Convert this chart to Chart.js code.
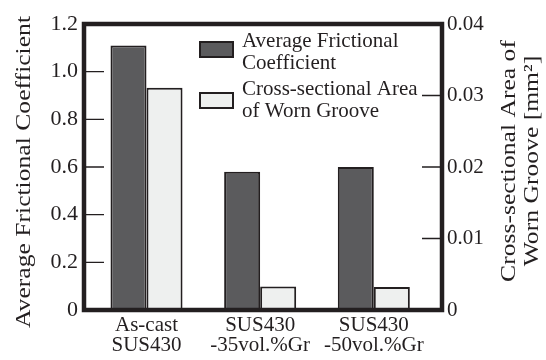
<!DOCTYPE html>
<html lang="en">
<head>
<meta charset="UTF-8">
<title>Frictional Coefficient and Worn Groove Area</title>
<script src="https://cdn.jsdelivr.net/npm/chart.js"></script>
<style>
  html, body { margin: 0; padding: 0; background: #fff; }
</style>
</head>
<body>
<canvas id="myChart" width="546" height="360"></canvas>
<script>
// data
const categories = [["As-cast", "SUS430"], ["SUS430", "-35vol.%Gr"], ["SUS430", "-50vol.%Gr"]];
const frictionValues = [1.11, 0.58, 0.60];
const grooveAreaValues = [0.0311, 0.0033, 0.0032];
const frictionTicks = [0, 0.2, 0.4, 0.6, 0.8, 1.0, 1.2];
const areaTicks = [0, 0.01, 0.02, 0.03, 0.04];
const seriesNames = [["Average Frictional", "Coefficient"], ["Cross-sectional Area", "of Worn Groove"]];
const leftTitle = "Average Frictional Coefficient";
const rightTitle = ["Cross-sectional Area of", "Worn Groove [mm\u00b2]"];

const ink = "#231f20";
const serif = '"Liberation Serif", "Times New Roman", serif';

// text in the source is a bit taller than wide, so titles get stretched along their length
function stretchedText(ctx, text, cx, cy, stretch) {
    ctx.save();
    ctx.translate(cx, cy);
    ctx.rotate(-Math.PI / 2);
    ctx.scale(stretch, 1);
    ctx.textAlign = "center";
    ctx.textBaseline = "middle";
    ctx.fillText(text, 0, 0);
    ctx.restore();
}

const framePlugin = {
    id: "frame",
    afterDatasetsDraw(chart) {
        const { ctx, chartArea: a, scales } = chart;
        ctx.save();
        ctx.strokeStyle = ink;
        ctx.lineWidth = 1.3;
        ctx.beginPath();
        scales.y.ticks.forEach(t => {
            if (t.value > scales.y.min && t.value < scales.y.max) {
                const py = scales.y.getPixelForValue(t.value);
                ctx.moveTo(a.left, py);
                ctx.lineTo(a.left + 20, py);
            }
        });
        scales.y1.ticks.forEach(t => {
            if (t.value > scales.y1.min && t.value < scales.y1.max) {
                const py = scales.y1.getPixelForValue(t.value);
                ctx.moveTo(a.right - 20, py);
                ctx.lineTo(a.right, py);
            }
        });
        ctx.stroke();
        ctx.lineWidth = 4.5;
        ctx.strokeRect(a.left, a.top, a.right - a.left, a.bottom - a.top);
        ctx.restore();
    }
};

const legendPlugin = {
    id: "legendBox",
    afterDraw(chart) {
        const { ctx, chartArea: a } = chart;
        ctx.save();
        chart.data.datasets.forEach((ds, i) => {
            const bx = a.left + 116;
            const by = a.top + 18 + i * 51;
            ctx.fillStyle = ds.backgroundColor;
            ctx.fillRect(bx, by, 33, 15);
            ctx.lineWidth = 2;
            ctx.strokeStyle = ink;
            ctx.strokeRect(bx, by, 33, 15);
            ctx.fillStyle = ink;
            ctx.font = "21px " + serif;
            ctx.textAlign = "left";
            ctx.textBaseline = "alphabetic";
            seriesNames[i].forEach((line, j) => {
                ctx.fillText(line, a.left + 158, a.top + 23 + i * 48 + j * 21.5);
            });
        });
        ctx.restore();
    }
};

const titlePlugin = {
    id: "axisTitles",
    afterDraw(chart) {
        const ctx = chart.ctx;
        ctx.save();
        ctx.fillStyle = ink;
        ctx.font = "21px " + serif;
        stretchedText(ctx, leftTitle, 24, 172, 1.22);
        stretchedText(ctx, rightTitle[0], 509, 161, 1.22);
        stretchedText(ctx, rightTitle[1], 532, 161, 1.22);
        ctx.restore();
    }
};

function createChart() {
    const ctx = document.getElementById("myChart");
    const tickFont = { family: serif, size: 22, lineHeight: 0.95 };
    new Chart(ctx, {
        type: "bar",
        data: {
            datasets: [{
                label: seriesNames[0].join(" "),
                data: frictionValues.map((v, i) => ({ x: i, y: v })),
                yAxisID: "y",
                backgroundColor: "#5b5b5d",
                borderColor: ink,
                borderWidth: 2,
                borderSkipped: false
            }, {
                label: seriesNames[1].join(" "),
                data: grooveAreaValues.map((v, i) => ({ x: i, y: v })),
                yAxisID: "y1",
                backgroundColor: "#eef0ef",
                borderColor: ink,
                borderWidth: 2,
                borderSkipped: false
            }]
        },
        options: {
            responsive: false,
            animation: false,
            layout: { padding: { top: 24, left: 0, right: 0, bottom: 0 } },
            categoryPercentage: 0.634,
            barPercentage: 1.0,
            plugins: {
                legend: { display: false },
                tooltip: { enabled: false }
            },
            scales: {
                x: {
                    type: "linear",
                    min: -0.55,
                    max: 2.6,
                    offset: false,
                    afterBuildTicks: s => { s.ticks = categories.map((c, i) => ({ value: i })); },
                    afterFit: s => { s.height = 50; },
                    ticks: {
                        callback: v => categories[v],
                        font: { family: serif, size: 21, lineHeight: 0.95 },
                        color: ink,
                        padding: 6,
                        maxRotation: 0,
                        autoSkip: false
                    },
                    grid: { display: false, drawTicks: false, offset: false },
                    border: { display: false }
                },
                y: {
                    position: "left",
                    min: 0,
                    max: 1.2,
                    afterBuildTicks: s => { s.ticks = frictionTicks.map(v => ({ value: v })); },
                    afterFit: s => { s.width = 84; },
                    ticks: {
                        callback: v => v === 0 ? "0" : v.toFixed(1),
                        font: tickFont,
                        color: ink,
                        padding: 6
                    },
                    grid: { display: false, drawTicks: false },
                    border: { display: false }
                },
                y1: {
                    position: "right",
                    min: 0,
                    max: 0.04,
                    afterBuildTicks: s => { s.ticks = areaTicks.map(v => ({ value: v })); },
                    afterFit: s => { s.width = 104; },
                    ticks: {
                        callback: v => v === 0 ? "0" : v.toFixed(2),
                        font: { family: serif, size: 21, lineHeight: 0.95 },
                        color: ink,
                        padding: 5
                    },
                    grid: { display: false, drawTicks: false },
                    border: { display: false }
                }
            }
        },
        plugins: [framePlugin, legendPlugin, titlePlugin]
    });
}

createChart();
</script>
</body>
</html>
